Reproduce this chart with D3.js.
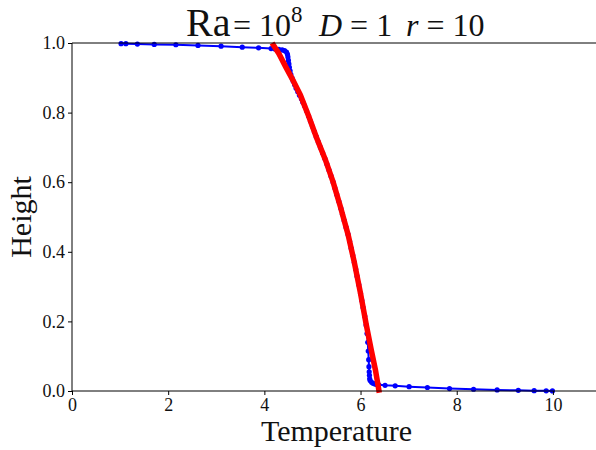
<!DOCTYPE html>
<html><head><meta charset="utf-8">
<script src="https://cdn.jsdelivr.net/npm/d3@7"></script>
<style>body{margin:0;background:#fff}svg{display:block}
text{font-family:'Liberation Serif','DejaVu Serif',serif}</style>
</head><body>
<svg id="c" width="596" height="450"></svg>
<script>
// ---- data ----
const xTicks = [0, 2, 4, 6, 8, 10];
const yTicks = [0, 0.2, 0.4, 0.6, 0.8, 1.0];
const blueX = [1.02,1.12,1.36,1.71,2.16,2.62,3.10,3.54,3.88,4.14,
  4.22,4.30,4.37,4.42,4.46,4.48,4.49,4.50,4.51,4.52,4.535,4.55,4.575,4.60,4.63,4.66,4.695,4.73,4.77,4.80,
  4.835,4.877,4.92,4.96,5.00,5.04,5.08,5.123,5.166,5.212,5.258,5.30,5.343,5.385,5.43,5.466,5.505,5.548,5.59,5.624,5.66,5.70,5.74,5.773,5.805,5.838,5.87,5.899,5.928,5.964,6.00,6.027,6.053,6.087,6.115,
  6.135,6.15,6.16,6.17,6.175,6.18,6.185,6.19,6.20,6.23,6.26,6.30,6.34,6.38,
  6.51,6.72,7.01,7.39,7.85,8.35,8.84,9.28,9.61,9.86,9.99];
const blueY = [0.998,0.998,0.997,0.996,0.995,0.993,0.991,0.988,0.986,0.984,
  0.983,0.982,0.980,0.978,0.974,0.968,0.96,0.95,0.94,0.93,0.92,0.91,0.90,0.89,0.88,0.87,0.86,0.85,0.84,0.83,
  0.82,0.805,0.79,0.775,0.76,0.745,0.73,0.715,0.70,0.684,0.668,0.652,0.635,0.618,0.60,0.583,0.565,0.545,0.525,0.508,0.49,0.47,0.45,0.43,0.41,0.39,0.37,0.35,0.33,0.305,0.28,0.26,0.24,0.215,0.19,
  0.165,0.14,0.115,0.09,0.07,0.055,0.045,0.035,0.03,0.025,0.022,0.02,0.019,0.018,
  0.0164,0.015,0.0124,0.010,0.007,0.005,0.003,0.002,0.001,0.0005,0.0002];
const redX = [4.16,4.30,4.45,4.59,4.75,4.92,5.08,5.27,5.43,5.58,5.74,5.87,6.00,6.12,6.22,6.31,6.39];
const redY = [1.0,0.97,0.93,0.894,0.85,0.79,0.73,0.664,0.60,0.53,0.45,0.37,0.28,0.19,0.12,0.06,-0.005];

// ---- layout ----
const svg = d3.select("#c");
const L = 72, R = 601, T = 43, B = 391;
const x = d3.scaleLinear().domain([0, 11]).range([L, R]);
const y = d3.scaleLinear().domain([0, 1]).range([B, T]);

const blue = blueX.map((d, i) => [d, blueY[i]]);
const red = redX.map((d, i) => [d, redY[i]]);
const line = d3.line().x(d => x(d[0])).y(d => y(d[1]));

svg.append("path").attr("d", line(blue)).attr("fill", "none")
  .attr("stroke", "#0000ff").attr("stroke-width", 2);
svg.append("g").selectAll("circle").data(blue).join("circle")
  .attr("cx", d => x(d[0])).attr("cy", d => y(d[1])).attr("r", 2.6).attr("fill", "#0000ff");
svg.append("path").attr("d", line(red)).attr("fill", "none")
  .attr("stroke", "#ff0000").attr("stroke-width", 5.5);

// axes
const gx = svg.append("g").attr("transform", `translate(0,${B})`)
  .call(d3.axisBottom(x).tickValues(xTicks).tickSize(4).tickPadding(3).tickFormat(d3.format("d")));
const gy = svg.append("g").attr("transform", `translate(${L},0)`)
  .call(d3.axisLeft(y).tickValues(yTicks).tickSize(4).tickPadding(3).tickFormat(d3.format(".1f")));
[gx, gy].forEach(g => {
  g.attr("font-family", "Liberation Serif").attr("font-size", 18);
  g.select(".domain").remove();
  g.selectAll("line").attr("stroke", "#000").attr("stroke-width", 1);
  g.selectAll("text").attr("font-family", "Liberation Serif").style("font-family", "'Liberation Serif', serif")
    .attr("font-size", 18).attr("fill", "#111");
});
// spines
svg.append("line").attr("x1", L).attr("x2", L).attr("y1", T).attr("y2", B).attr("stroke", "#000");
svg.append("line").attr("x1", L).attr("x2", R).attr("y1", B).attr("y2", B).attr("stroke", "#000");
svg.append("line").attr("x1", L).attr("x2", R).attr("y1", T).attr("y2", T).attr("stroke", "#000");

// labels
svg.append("text").attr("x", (L + R) / 2).attr("y", 441).attr("text-anchor", "middle")
  .attr("font-size", 30).attr("fill", "#111").text("Temperature");
svg.append("text").attr("transform", `translate(31,${(T + B) / 2}) rotate(-90)`).attr("text-anchor", "middle")
  .attr("font-size", 30).attr("fill", "#111").text("Height");

// title
const t = svg.append("g").attr("fill", "#111");
t.append("text").attr("x", 186).attr("y", 36).attr("font-size", 40).text("Ra");
t.append("text").attr("x", 233).attr("y", 36).attr("font-size", 32)
  .html('= 10<tspan font-size="23" dy="-14">8</tspan>');
t.append("text").attr("x", 319).attr("y", 36).attr("font-size", 32)
  .html('<tspan font-style="italic">D</tspan> = 1');
t.append("text").attr("x", 406).attr("y", 36).attr("font-size", 32)
  .html('<tspan font-style="italic">r</tspan> = 10');
</script>
</body></html>
